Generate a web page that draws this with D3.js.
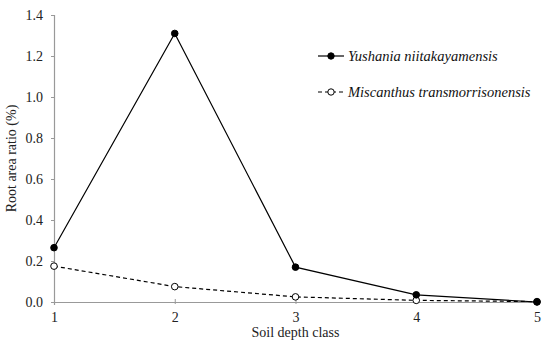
<!DOCTYPE html>
<html lang="en">
<head>
<meta charset="UTF-8">
<title>Root area ratio</title>
<script src="https://cdn.jsdelivr.net/npm/d3@7"></script>
<style>
  body { margin: 0; background: #fff; }
</style>
</head>
<body>
<script>
const depthClasses = [1, 2, 3, 4, 5];
const yushania = [0.265, 1.31, 0.17, 0.035, 0.0];
const miscanthus = [0.175, 0.075, 0.025, 0.008, 0.002];
const yTicks = [0, 0.2, 0.4, 0.6, 0.8, 1.0, 1.2, 1.4];
const seriesNames = ["Yushania niitakayamensis", "Miscanthus transmorrisonensis"];

const serif = '"Liberation Serif", "Times New Roman", "DejaVu Serif", serif';
const width = 550, height = 344;
const margin = { top: 15, right: 13, bottom: 42, left: 54 };

const svg = d3.select("body").append("svg")
  .attr("width", width)
  .attr("height", height)
  .attr("font-family", serif);

const x = d3.scaleLinear().domain([1, 5]).range([margin.left, width - margin.right]);
const y = d3.scaleLinear().domain([0, 1.4]).range([height - margin.bottom, margin.top]);

// axes
const yAxis = svg.append("g")
  .attr("transform", `translate(${margin.left},0)`)
  .call(d3.axisLeft(y).tickValues(yTicks).tickFormat(d3.format(".1f")).tickSize(3).tickPadding(8));
const xAxis = svg.append("g")
  .attr("transform", `translate(0,${height - margin.bottom})`)
  .call(d3.axisBottom(x).tickValues(depthClasses).tickFormat(d3.format("d")).tickSize(3).tickPadding(7));

[yAxis, xAxis].forEach(g => {
  g.attr("font-family", serif).attr("font-size", 14);
  g.select(".domain").attr("stroke", "#999").attr("stroke-width", 1.2);
  g.selectAll(".tick line").attr("stroke", "#999");
  g.selectAll(".tick text").attr("fill", "#222");
});
xAxis.selectAll(".tick line").attr("y1", -3).attr("y2", 2);

svg.append("text")
  .attr("x", (margin.left + width - margin.right) / 2)
  .attr("y", 337)
  .attr("text-anchor", "middle")
  .attr("font-size", 14)
  .attr("fill", "#222")
  .text("Soil depth class");

svg.append("text")
  .attr("transform", `translate(16,${(margin.top + height - margin.bottom) / 2}) rotate(-90)`)
  .attr("text-anchor", "middle")
  .attr("font-size", 14)
  .attr("fill", "#222")
  .text("Root area ratio (%)");

const line = d3.line().x((d, i) => x(depthClasses[i])).y(d => y(d));

function drawSeries(values, dashed, filled) {
  svg.append("path")
    .datum(values)
    .attr("fill", "none")
    .attr("stroke", "#000")
    .attr("stroke-width", 1.2)
    .attr("stroke-dasharray", dashed ? "4,3" : null)
    .attr("d", line);
  svg.selectAll(null)
    .data(values)
    .enter().append("circle")
    .attr("cx", (d, i) => x(depthClasses[i]))
    .attr("cy", d => y(d))
    .attr("r", 3.3)
    .attr("fill", filled ? "#000" : "#fff")
    .attr("stroke", "#000")
    .attr("stroke-width", 1);
}

drawSeries(miscanthus, true, false);
drawSeries(yushania, false, true);

// legend
const legend = svg.append("g").attr("transform", "translate(318,56)");
seriesNames.forEach((name, i) => {
  const g = legend.append("g").attr("transform", `translate(0,${i * 36})`);
  g.append("line")
    .attr("x1", 0).attr("x2", 26)
    .attr("stroke", "#000").attr("stroke-width", 1.2)
    .attr("stroke-dasharray", i === 1 ? "4,3" : null);
  g.append("circle")
    .attr("cx", 13).attr("r", 3.2)
    .attr("fill", i === 0 ? "#000" : "#fff")
    .attr("stroke", "#000");
  g.append("text")
    .attr("x", 30).attr("y", 5)
    .attr("font-size", 14.5)
    .attr("font-style", "italic")
    .attr("fill", "#111")
    .text(name);
});
</script>
</body>
</html>
